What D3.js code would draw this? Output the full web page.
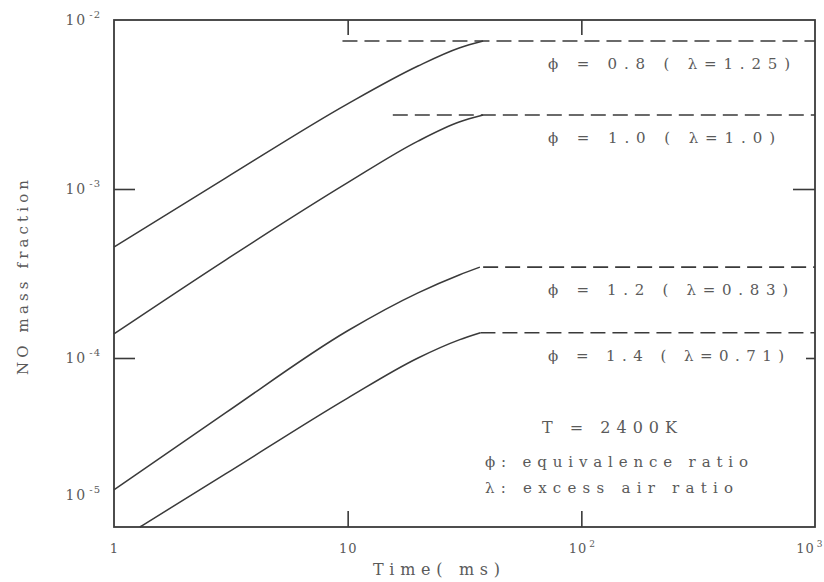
<!DOCTYPE html>
<html>
<head>
<meta charset="utf-8">
<script src="https://cdn.jsdelivr.net/npm/d3@7"></script>
<style>
  html, body { margin: 0; padding: 0; background: #fff; }
  svg { display: block; }
</style>
</head>
<body>
<svg id="chart" width="824" height="582"></svg>
<script>
// ---------- data ----------
const timeTicks = [1, 10, 100, 1000];
const timeTickExp = ["1", "10", "10|2", "10|3"];
const fracTicks = [1e-2, 1e-3, 1e-4, 1e-5];
const fracTickExp = ["-2", "-3", "-4", "-5"];

const seriesNames = ["ϕ = 0.8 ( λ=1.25)", "ϕ = 1.0 ( λ=1.0)", "ϕ = 1.2 ( λ=0.83)", "ϕ = 1.4 ( λ=0.71)"];
const timesPhi08 = [1, 3, 10, 20, 30, 38];
const valuesPhi08 = [4.54e-4, 1.16e-3, 3.19e-3, 5.34e-3, 6.83e-3, 7.51e-3];
const timesPhi10 = [1, 3, 10, 20, 30, 38];
const valuesPhi10 = [1.39e-4, 3.80e-4, 1.09e-3, 1.92e-3, 2.49e-3, 2.74e-3];
const timesPhi12 = [1, 3, 10, 20, 30, 36.8];
const valuesPhi12 = [1.66e-5, 4.73e-5, 1.45e-4, 2.43e-4, 3.10e-4, 3.45e-4];
const timesPhi14 = [1.29, 3, 10, 20, 30, 37];
const valuesPhi14 = [1.0e-5, 2.06e-5, 5.79e-5, 1.0e-4, 1.28e-4, 1.41e-4];
const equilibriumFrom = [9.5, 15.6, 38, 37];   // start time of the dashed equilibrium line
const equilibriumTo = 1000;

const noteLines = ["T = 2400K", "ϕ: equivalence ratio", "λ: excess air ratio"];
const xTitle = "Time( ms)";
const yTitle = "NO mass fraction";

// ---------- layout ----------
const svg = d3.select("#chart");
const L = 114, R = 815, T = 20, B = 527;
const x = d3.scaleLog().domain([1, 1000]).range([L, R]);
const y = d3.scaleLog().domain([1e-5, 1e-2]).range([B, T]);
const ink = "#3a3a3a", textInk = "#5a5a5a";
const font = "DejaVu Serif, serif";

const series = [
  {t: timesPhi08, v: valuesPhi08},
  {t: timesPhi10, v: valuesPhi10},
  {t: timesPhi12, v: valuesPhi12},
  {t: timesPhi14, v: valuesPhi14}
].map((s, i) => ({
  name: seriesNames[i],
  pts: s.t.map((t, j) => [t, s.v[j]]),
  plateau: s.v[s.v.length - 1],
  from: equilibriumFrom[i]
}));

// axes (inward ticks)
const gB = svg.append("g").attr("transform", `translate(0,${B})`)
  .call(d3.axisBottom(x).tickValues(timeTicks).tickSizeInner(-16).tickSizeOuter(0).tickPadding(26)
    .tickFormat((d, i) => timeTickExp[i]));
const gT = svg.append("g").attr("transform", `translate(0,${T})`)
  .call(d3.axisTop(x).tickValues(timeTicks).tickSizeInner(-15).tickSizeOuter(0).tickFormat(""));
const gL = svg.append("g").attr("transform", `translate(${L},0)`)
  .call(d3.axisLeft(y).tickValues(fracTicks).tickSizeInner(-21).tickSizeOuter(0).tickPadding(13)
    .tickFormat(d => "10"));
const gR = svg.append("g").attr("transform", `translate(${R},0)`)
  .call(d3.axisRight(y).tickValues(fracTicks).tickSizeInner(-22).tickSizeOuter(0).tickFormat(""));

[gB, gT, gL, gR].forEach(g => {
  g.select(".domain").remove();
  g.selectAll(".tick line").attr("stroke", ink).attr("stroke-width", 1.6);
  g.selectAll(".tick text").attr("fill", textInk).attr("font-family", font);
});
// corner ticks are hidden in the frame
gB.selectAll(".tick line").filter(d => d === 1 || d === 1000).remove();
gT.selectAll(".tick line").filter(d => d === 1 || d === 1000).remove();
gL.selectAll(".tick line").filter(d => d === 1e-2 || d === 1e-5).remove();
gR.selectAll(".tick line").filter(d => d === 1e-2 || d === 1e-5).remove();
gR.selectAll(".tick line").filter(d => d === 1e-4).attr("x2", -9);

// x tick labels with superscripts
gB.selectAll(".tick text").each(function(d, i) {
  const parts = timeTickExp[i].split("|");
  const t = d3.select(this).text(null).attr("font-size", 13).attr("dy", "0");
  if (d === 1000) t.attr("text-anchor", "end").attr("x", 7);
  t.append("tspan").attr("letter-spacing", 1).text(parts[0]);
  if (parts[1]) t.append("tspan").attr("font-size", 9).attr("dy", -6).attr("dx", 2).text(parts[1]);
});
// y tick labels with superscripts
gL.selectAll(".tick text").each(function(d, i) {
  const t = d3.select(this).text(null).attr("font-size", 14).attr("dy", i === 3 ? -28 : 4);
  t.append("tspan").attr("letter-spacing", 2).text("10");
  t.append("tspan").attr("font-size", 10).attr("dy", -7).attr("dx", 2).attr("letter-spacing", 1).text(fracTickExp[i]);
});

// frame
svg.append("rect").attr("x", L).attr("y", T).attr("width", R - L).attr("height", B - T)
  .attr("fill", "none").attr("stroke", ink).attr("stroke-width", 1.8);

// curves
const line = d3.line().x(d => x(d[0])).y(d => y(d[1])).curve(d3.curveMonotoneX);
const plot = svg.append("g");
plot.selectAll("path.curve").data(series).join("path")
  .attr("class", "curve")
  .attr("d", s => line(s.pts))
  .attr("fill", "none").attr("stroke", ink).attr("stroke-width", 1.5);
plot.selectAll("line.eq").data(series).join("line")
  .attr("class", "eq")
  .attr("x1", s => x(s.from)).attr("x2", x(equilibriumTo))
  .attr("y1", s => y(s.plateau)).attr("y2", s => y(s.plateau))
  .attr("stroke", ink).attr("stroke-width", 1.6).attr("stroke-dasharray", "15,7");

// series labels
const labelWidths = [242, 227, 240, 236];
plot.selectAll("text.lab").data(series).join("text")
  .attr("class", "lab")
  .attr("x", 548).attr("y", s => y(s.plateau) + 28)
  .attr("font-family", font).attr("font-size", 15).attr("fill", textInk)
  .attr("textLength", (s, i) => labelWidths[i]).attr("lengthAdjust", "spacing")
  .text(s => s.name);

// notes
svg.append("text").attr("x", 542).attr("y", 433).attr("font-family", font)
  .attr("font-size", 16).attr("fill", textInk).attr("textLength", 135).attr("lengthAdjust", "spacing")
  .text(noteLines[0]);
svg.append("text").attr("x", 485).attr("y", 467).attr("font-family", font)
  .attr("font-size", 15).attr("fill", textInk).attr("textLength", 263).attr("lengthAdjust", "spacing")
  .text(noteLines[1]);
svg.append("text").attr("x", 485).attr("y", 493).attr("font-family", font)
  .attr("font-size", 15).attr("fill", textInk).attr("textLength", 248).attr("lengthAdjust", "spacing")
  .text(noteLines[2]);

// axis titles
svg.append("text").attr("x", 373).attr("y", 575).attr("font-family", font)
  .attr("font-size", 16).attr("fill", textInk).attr("textLength", 127).attr("lengthAdjust", "spacing")
  .text(xTitle);
svg.append("text").attr("transform", "translate(28,375) rotate(-90)")
  .attr("font-family", font).attr("font-size", 15).attr("fill", textInk)
  .attr("textLength", 195).attr("lengthAdjust", "spacing")
  .text(yTitle);
</script>
</body>
</html>
